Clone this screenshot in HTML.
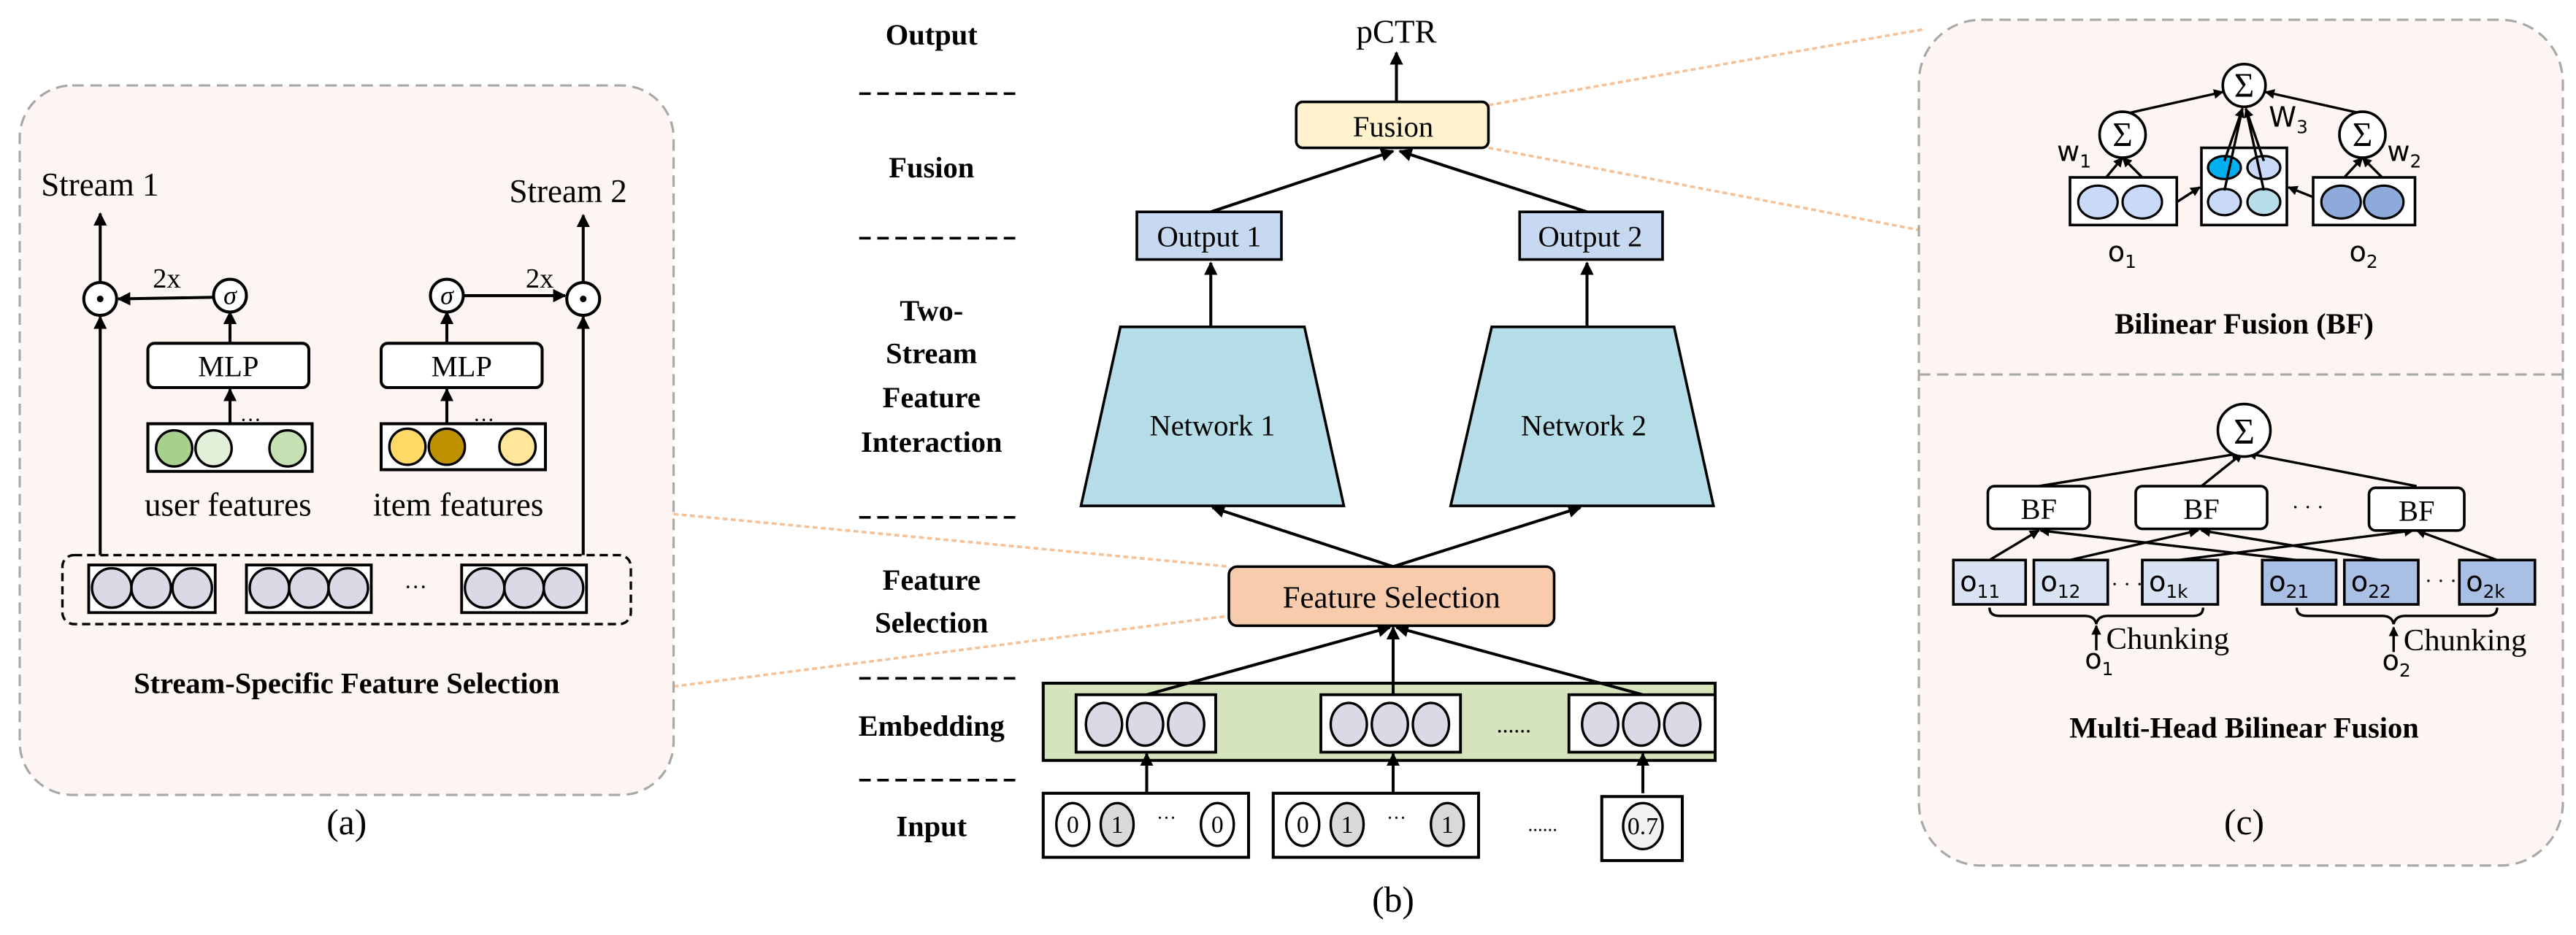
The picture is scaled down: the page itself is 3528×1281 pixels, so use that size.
<!DOCTYPE html>
<html><head><meta charset="utf-8"><style>html,body{margin:0;padding:0;background:#fff}svg{display:block}</style></head><body>
<svg width="3528" height="1281" viewBox="0 0 1568 569.3" xmlns="http://www.w3.org/2000/svg" font-family="Liberation Serif, serif">
<defs>
<marker id="ar" viewBox="0 0 10 10" refX="9" refY="5" markerWidth="4.5" markerHeight="4.5" orient="auto"><path d="M0,0L10,5L0,10z" fill="#000"/></marker>
<marker id="as" viewBox="0 0 10 10" refX="9" refY="5" markerWidth="4" markerHeight="4" orient="auto"><path d="M0,0L10,5L0,10z" fill="#000"/></marker>
</defs>
<g stroke="#f6c197" stroke-width="1.6" stroke-dasharray="3,2" fill="none">
<line x1="410" y1="313" x2="748" y2="345"/><line x1="410" y1="418" x2="748" y2="375"/>
<line x1="906" y1="64" x2="1170" y2="18"/><line x1="906" y1="90" x2="1168" y2="140"/>
</g>
<!-- Panel a -->
<rect x="12" y="52" width="398" height="432" rx="32" fill="#fdf5f2" stroke="#a8a8a8" stroke-width="1.4" stroke-dasharray="7,4"/>
<g font-size="20"><text x="25" y="119">Stream 1</text><text x="310" y="123">Stream 2</text></g>
<g stroke="#000" stroke-width="1.8" fill="none">
<line x1="61" y1="338" x2="61" y2="193" marker-end="url(#ar)"/><line x1="61" y1="172" x2="61" y2="130" marker-end="url(#ar)"/>
<line x1="355" y1="338" x2="355" y2="193" marker-end="url(#ar)"/><line x1="355" y1="172" x2="355" y2="131" marker-end="url(#ar)"/>
<line x1="131" y1="181" x2="72" y2="182" marker-end="url(#ar)"/><line x1="281" y1="180" x2="344" y2="180" marker-end="url(#ar)"/>
<line x1="140" y1="209" x2="140" y2="190" marker-end="url(#ar)"/><line x1="272" y1="209" x2="272" y2="190" marker-end="url(#ar)"/>
<line x1="140" y1="258" x2="140" y2="237" marker-end="url(#ar)"/><line x1="272" y1="258" x2="272" y2="237" marker-end="url(#ar)"/>
</g>
<g stroke="#000" stroke-width="1.8" fill="#fff">
<circle cx="61" cy="182" r="10"/><circle cx="355" cy="182" r="10"/><circle cx="140" cy="180" r="10"/><circle cx="272" cy="180" r="10"/>
<rect x="90" y="209" width="98" height="27" rx="4"/><rect x="232" y="209" width="98" height="27" rx="4"/>
<rect x="90" y="258" width="100" height="29"/><rect x="232" y="258" width="100" height="28"/>
</g>
<circle cx="61" cy="182" r="2"/><circle cx="355" cy="182" r="2"/>
<g font-size="16" text-anchor="middle" font-style="italic"><text x="140" y="185">σ</text><text x="272" y="185">σ</text></g>
<g font-size="17"><text x="93" y="175">2x</text><text x="320" y="175">2x</text></g>
<g font-size="18" text-anchor="middle"><text x="139" y="229">MLP</text><text x="281" y="229">MLP</text></g>
<g stroke="#000" stroke-width="1.5">
<circle cx="106" cy="273" r="11" fill="#a8d08d"/><circle cx="130" cy="273" r="11" fill="#e2efd9"/><circle cx="175" cy="273" r="11" fill="#c5e0b3"/>
<circle cx="248" cy="272" r="11" fill="#ffd966"/><circle cx="272" cy="272" r="11" fill="#bf9000"/><circle cx="315" cy="272" r="11" fill="#ffe699"/>
</g>
<g font-size="13"><text x="146" y="260">···</text><text x="288" y="260">···</text></g>
<g font-size="20"><text x="88" y="314">user features</text><text x="227" y="314">item features</text></g>
<rect x="38" y="338" width="346" height="42" rx="7" fill="none" stroke="#000" stroke-width="1.5" stroke-dasharray="5,3"/>
<g stroke="#000" stroke-width="1.7" fill="#fff"><rect x="54" y="344" width="77" height="29"/><rect x="150" y="344" width="76" height="29"/><rect x="281" y="344" width="76" height="29"/></g>
<g stroke="#000" stroke-width="1.5" fill="#dcd8e6">
<circle cx="68" cy="358" r="12"/><circle cx="92" cy="358" r="12"/><circle cx="117" cy="358" r="12"/>
<circle cx="164" cy="358" r="12"/><circle cx="188" cy="358" r="12"/><circle cx="212" cy="358" r="12"/>
<circle cx="295" cy="358" r="12"/><circle cx="319" cy="358" r="12"/><circle cx="343" cy="358" r="12"/>
</g>
<text x="246" y="362" font-size="14">···</text>
<text x="211" y="422" font-size="18" font-weight="bold" text-anchor="middle">Stream-Specific Feature Selection</text>
<text x="211" y="508" font-size="22" text-anchor="middle">(a)</text>
<!-- Panel b labels -->
<g font-size="18" font-weight="bold" text-anchor="middle">
<text x="567" y="27">Output</text><text x="567" y="108">Fusion</text>
<text x="567" y="195">Two-</text><text x="567" y="221">Stream</text><text x="567" y="248">Feature</text><text x="567" y="275">Interaction</text>
<text x="567" y="359">Feature</text><text x="567" y="385">Selection</text>
<text x="567" y="448">Embedding</text><text x="567" y="509">Input</text>
</g>
<g stroke="#000" stroke-width="1.6" stroke-dasharray="7,4">
<line x1="523" y1="57" x2="620" y2="57"/><line x1="523" y1="145" x2="620" y2="145"/><line x1="523" y1="315" x2="620" y2="315"/><line x1="523" y1="413" x2="620" y2="413"/><line x1="523" y1="475" x2="620" y2="475"/>
</g>
<text x="850" y="26" font-size="20" text-anchor="middle">pCTR</text>
<g stroke="#000" stroke-width="1.8" fill="none">
<line x1="850" y1="62" x2="850" y2="32" marker-end="url(#ar)"/>
<line x1="737" y1="129" x2="848" y2="92" marker-end="url(#ar)"/><line x1="966" y1="129" x2="852" y2="92" marker-end="url(#ar)"/>
<line x1="737" y1="199" x2="737" y2="160" marker-end="url(#ar)"/><line x1="966" y1="199" x2="966" y2="160" marker-end="url(#ar)"/>
<line x1="848" y1="345" x2="738" y2="309" marker-end="url(#ar)"/><line x1="848" y1="345" x2="962" y2="309" marker-end="url(#ar)"/>
</g>
<rect x="789" y="62" width="117" height="28" rx="4" fill="#fff2cc" stroke="#000" stroke-width="1.6"/>
<text x="848" y="83" font-size="18" text-anchor="middle">Fusion</text>
<rect x="692" y="129" width="88" height="29" fill="#c6d9f1" stroke="#000" stroke-width="1.6"/>
<rect x="925" y="129" width="87" height="29" fill="#c6d9f1" stroke="#000" stroke-width="1.6"/>
<g font-size="18" text-anchor="middle"><text x="736" y="150">Output 1</text><text x="968" y="150">Output 2</text></g>
<polygon points="682,199 794,199 818,308 658,308" fill="#b4dde8" stroke="#000" stroke-width="1.6"/>
<polygon points="908,199 1019,199 1043,308 883,308" fill="#b4dde8" stroke="#000" stroke-width="1.6"/>
<g font-size="18" text-anchor="middle"><text x="738" y="265">Network 1</text><text x="964" y="265">Network 2</text></g>
<rect x="748" y="345" width="198" height="36" rx="5" fill="#f8cbad" stroke="#000" stroke-width="1.6"/>
<text x="847" y="370" font-size="19" text-anchor="middle">Feature Selection</text>
<rect x="635" y="416" width="409" height="47" fill="#d6e4bd" stroke="#000" stroke-width="1.8"/>
<g stroke="#000" stroke-width="1.8" fill="none">
<line x1="698" y1="423" x2="846" y2="382" marker-end="url(#ar)"/><line x1="848" y1="423" x2="848" y2="382" marker-end="url(#ar)"/><line x1="1000" y1="423" x2="850" y2="382" marker-end="url(#ar)"/>
<line x1="698" y1="483" x2="698" y2="459" marker-end="url(#ar)"/><line x1="848" y1="483" x2="848" y2="459" marker-end="url(#ar)"/><line x1="1000" y1="483" x2="1000" y2="459" marker-end="url(#ar)"/>
</g>
<g stroke="#000" stroke-width="1.7" fill="#fff"><rect x="655" y="423" width="85" height="35"/><rect x="804" y="423" width="85" height="35"/><rect x="955" y="423" width="89" height="35"/></g>
<g stroke="#000" stroke-width="1.5" fill="#dcd8e6">
<ellipse cx="672" cy="441" rx="11" ry="13"/><ellipse cx="697" cy="441" rx="11" ry="13"/><ellipse cx="722" cy="441" rx="11" ry="13"/>
<ellipse cx="821" cy="441" rx="11" ry="13"/><ellipse cx="846" cy="441" rx="11" ry="13"/><ellipse cx="871" cy="441" rx="11" ry="13"/>
<ellipse cx="974" cy="441" rx="11" ry="13"/><ellipse cx="999" cy="441" rx="11" ry="13"/><ellipse cx="1024" cy="441" rx="11" ry="13"/>
</g>
<text x="911" y="446" font-size="14">......</text>
<g stroke="#000" stroke-width="1.8" fill="#fff"><rect x="635" y="483" width="125" height="39"/><rect x="775" y="483" width="125" height="39"/><rect x="975" y="485" width="49" height="39"/></g>
<g stroke="#000" stroke-width="1.5">
<ellipse cx="653" cy="502" rx="10" ry="13" fill="#fff"/><ellipse cx="680" cy="502" rx="10" ry="13" fill="#d9d9d9"/><ellipse cx="741" cy="502" rx="10" ry="13" fill="#fff"/>
<ellipse cx="793" cy="502" rx="10" ry="13" fill="#fff"/><ellipse cx="820" cy="502" rx="10" ry="13" fill="#d9d9d9"/><ellipse cx="881" cy="502" rx="10" ry="13" fill="#d9d9d9"/>
<ellipse cx="1000" cy="503" rx="12" ry="14" fill="#f2f2f2"/>
</g>
<g font-size="15" text-anchor="middle"><text x="653" y="507">0</text><text x="680" y="507">1</text><text x="741" y="507">0</text><text x="793" y="507">0</text><text x="820" y="507">1</text><text x="881" y="507">1</text><text x="1000" y="508">0.7</text></g>
<g font-size="12"><text x="704" y="502">···</text><text x="844" y="502">···</text><text x="930" y="506">......</text></g>
<text x="848" y="555" font-size="22" text-anchor="middle">(b)</text>
<!-- Panel c -->
<rect x="1168" y="12" width="392" height="515" rx="38" fill="#fdf5f2" stroke="#a8a8a8" stroke-width="1.4" stroke-dasharray="7,4"/>
<line x1="1168" y1="228" x2="1560" y2="228" stroke="#a8a8a8" stroke-width="1.4" stroke-dasharray="7,4"/>
<g stroke="#000" stroke-width="1.5" fill="none">
<line x1="1295" y1="69" x2="1353" y2="56" marker-end="url(#as)"/><line x1="1437" y1="69" x2="1379" y2="56" marker-end="url(#as)"/>
<line x1="1325" y1="123" x2="1339" y2="114" marker-end="url(#as)"/><line x1="1408" y1="120" x2="1393" y2="114" marker-end="url(#as)"/>
<line x1="1282" y1="108" x2="1292" y2="96" marker-end="url(#as)"/><line x1="1304" y1="108" x2="1292" y2="96" marker-end="url(#as)"/>
<line x1="1427" y1="108" x2="1438" y2="96" marker-end="url(#as)"/><line x1="1450" y1="108" x2="1438" y2="96" marker-end="url(#as)"/>
</g>
<g stroke="#000" stroke-width="1.6" fill="#fff">
<circle cx="1366" cy="52" r="13"/><circle cx="1292" cy="82" r="14"/><circle cx="1438" cy="82" r="14"/>
<rect x="1260" y="108" width="65" height="29"/><rect x="1340" y="90" width="52" height="47"/><rect x="1408" y="108" width="62" height="29"/>
</g>
<g stroke="#000" stroke-width="1.4">
<ellipse cx="1277" cy="123" rx="12" ry="10" fill="#c9daf8"/><ellipse cx="1304" cy="123" rx="12" ry="10" fill="#c9daf8"/>
<ellipse cx="1354" cy="102" rx="10" ry="7" fill="#00b0f0"/><ellipse cx="1378" cy="102" rx="10" ry="7" fill="#c9daf8"/>
<ellipse cx="1354" cy="123" rx="10" ry="8" fill="#c9daf8"/><ellipse cx="1378" cy="123" rx="10" ry="8" fill="#b7dde8"/>
<ellipse cx="1425" cy="123" rx="12" ry="10" fill="#8eaadb"/><ellipse cx="1451" cy="123" rx="12" ry="10" fill="#8eaadb"/>
</g>
<g stroke="#000" stroke-width="1.5" fill="none">
<line x1="1354" y1="98" x2="1365" y2="66" marker-end="url(#as)"/><line x1="1378" y1="98" x2="1367" y2="66" marker-end="url(#as)"/>
<line x1="1354" y1="116" x2="1365" y2="66"/><line x1="1378" y1="116" x2="1367" y2="66"/>
</g>
<g font-size="21" text-anchor="middle"><text x="1366" y="59">Σ</text><text x="1292" y="89">Σ</text><text x="1438" y="89">Σ</text></g>
<g font-size="17" font-family="DejaVu Sans, sans-serif">
<text x="1252" y="98">w<tspan font-size="11" dy="4">1</tspan></text>
<text x="1381" y="77">W<tspan font-size="11" dy="4">3</tspan></text>
<text x="1453" y="98">w<tspan font-size="11" dy="4">2</tspan></text>
<text x="1283" y="159">o<tspan font-size="11" dy="4">1</tspan></text>
<text x="1430" y="159">o<tspan font-size="11" dy="4">2</tspan></text>
</g>
<text x="1366" y="203" font-size="18" font-weight="bold" text-anchor="middle">Bilinear Fusion (BF)</text>
<g stroke="#000" stroke-width="1.5" fill="none">
<line x1="1241" y1="296" x2="1364" y2="276" marker-end="url(#as)"/><line x1="1340" y1="296" x2="1365" y2="276" marker-end="url(#as)"/><line x1="1471" y1="296" x2="1368" y2="276" marker-end="url(#as)"/>
<line x1="1211" y1="341" x2="1241" y2="323" marker-end="url(#as)"/><line x1="1398" y1="341" x2="1242" y2="323" marker-end="url(#as)"/>
<line x1="1260" y1="341" x2="1338" y2="323" marker-end="url(#as)"/><line x1="1449" y1="341" x2="1340" y2="323" marker-end="url(#as)"/>
<line x1="1326" y1="341" x2="1469" y2="323" marker-end="url(#as)"/><line x1="1520" y1="341" x2="1471" y2="323" marker-end="url(#as)"/>
<path d="M1211,370 q0,5 6,5 h52 q6,0 7,5 q1,-5 7,-5 h52 q6,0 6,-5"/>
<path d="M1398,370 q0,5 6,5 h46 q6,0 7,5 q1,-5 7,-5 h50 q6,0 6,-5"/>
<line x1="1276" y1="396" x2="1276" y2="381" marker-end="url(#as)"/><line x1="1457" y1="397" x2="1457" y2="382" marker-end="url(#as)"/>
</g>
<circle cx="1366" cy="262" r="16" fill="#fff" stroke="#000" stroke-width="1.6"/>
<text x="1366" y="270" font-size="22" text-anchor="middle">Σ</text>
<g stroke="#000" stroke-width="1.6" fill="#fff"><rect x="1210" y="296" width="62" height="26" rx="4"/><rect x="1300" y="296" width="80" height="26" rx="4"/><rect x="1442" y="297" width="58" height="26" rx="4"/></g>
<g font-size="18" text-anchor="middle"><text x="1241" y="316">BF</text><text x="1340" y="316">BF</text><text x="1471" y="317">BF</text></g>
<text x="1395" y="313" font-size="13">· · ·</text>
<g stroke="#000" stroke-width="1.6">
<rect x="1189" y="341" width="44" height="27" fill="#dae3f3"/><rect x="1238" y="341" width="45" height="27" fill="#dae3f3"/><rect x="1304" y="341" width="46" height="27" fill="#dae3f3"/>
<rect x="1377" y="341" width="45" height="27" fill="#a9bfe3"/><rect x="1427" y="341" width="45" height="27" fill="#a9bfe3"/><rect x="1497" y="341" width="46" height="27" fill="#a9bfe3"/>
</g>
<g font-size="17" font-family="DejaVu Sans, sans-serif">
<text x="1193" y="360">o<tspan font-size="11" dy="4">11</tspan></text>
<text x="1242" y="360">o<tspan font-size="11" dy="4">12</tspan></text>
<text x="1308" y="360">o<tspan font-size="11" dy="4">1k</tspan></text>
<text x="1381" y="360">o<tspan font-size="11" dy="4">21</tspan></text>
<text x="1431" y="360">o<tspan font-size="11" dy="4">22</tspan></text>
<text x="1501" y="360">o<tspan font-size="11" dy="4">2k</tspan></text>
<text x="1269" y="407">o<tspan font-size="11" dy="4">1</tspan></text>
<text x="1450" y="408">o<tspan font-size="11" dy="4">2</tspan></text>
</g>
<g font-size="13"><text x="1285" y="360">· · ·</text><text x="1476" y="358">· · ·</text></g>
<g font-size="19"><text x="1282" y="395">Chunking</text><text x="1463" y="396">Chunking</text></g>
<text x="1366" y="449" font-size="18" font-weight="bold" text-anchor="middle">Multi-Head Bilinear Fusion</text>
<text x="1366" y="508" font-size="22" text-anchor="middle">(c)</text>
</svg>
</body></html>
